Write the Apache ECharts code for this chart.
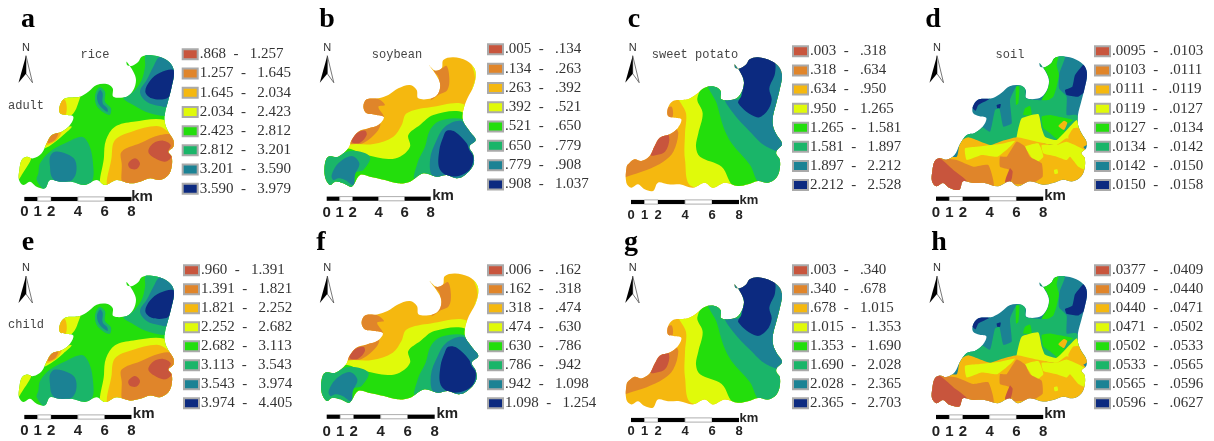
<!DOCTYPE html>
<html><head><meta charset="utf-8">
<style>html,body{margin:0;padding:0;background:#fff}#c{width:1214px;height:441px;filter:blur(0.45px)}</style>
<script src="https://cdn.jsdelivr.net/npm/echarts@6/dist/echarts.min.js"></script>
</head><body><div id="c"></div>
<script>
const COLORS = ['#C8553D','#E0852A','#F5B80F','#E0FA0A','#23DE0C','#1AB569','#1B8294','#0C2A80'];

const LABELS_A = ['.868 - 1.257','1.257 - 1.645','1.645 - 2.034','2.034 - 2.423','2.423 - 2.812','2.812 - 3.201','3.201 - 3.590','3.590 - 3.979'];
const LABELS_B = ['.005 - .134','.134 - .263','.263 - .392','.392 - .521','.521 - .650','.650 - .779','.779 - .908','.908 - 1.037'];
const LABELS_C = ['.003 - .318','.318 - .634','.634 - .950','.950 - 1.265','1.265 - 1.581','1.581 - 1.897','1.897 - 2.212','2.212 - 2.528'];
const LABELS_D = ['.0095 - .0103','.0103 - .0111','.0111 - .0119','.0119 - .0127','.0127 - .0134','.0134 - .0142','.0142 - .0150','.0150 - .0158'];
const LABELS_E = ['.960 - 1.391','1.391 - 1.821','1.821 - 2.252','2.252 - 2.682','2.682 - 3.113','3.113 - 3.543','3.543 - 3.974','3.974 - 4.405'];
const LABELS_F = ['.006 - .162','.162 - .318','.318 - .474','.474 - .630','.630 - .786','.786 - .942','.942 - 1.098','1.098 - 1.254'];
const LABELS_G = ['.003 - .340','.340 - .678','.678 - 1.015','1.015 - 1.353','1.353 - 1.690','1.690 - 2.028','2.028 - 2.365','2.365 - 2.703'];
const LABELS_H = ['.0377 - .0409','.0409 - .0440','.0440 - .0471','.0471 - .0502','.0502 - .0533','.0533 - .0565','.0565 - .0596','.0596 - .0627'];

const OUTLINE_RICE = [[380,185],[382,196],[397,197],[415,185],[425,170],[450,165],[490,175],[515,195],[522,220],[515,260],[505,300],[495,340],[495,370],[505,395],[520,420],[520,440],[505,455],[515,470],[515,500],[505,525],[480,540],[450,535],[420,545],[390,550],[350,540],[315,555],[290,540],[255,555],[215,545],[180,545],[150,540],[135,565],[110,560],[90,545],[70,555],[57,540],[58,510],[65,480],[80,470],[100,475],[125,460],[140,430],[155,405],[185,395],[210,375],[220,350],[200,345],[180,340],[180,315],[195,295],[225,292],[240,290],[265,275],[290,255],[320,252],[338,265],[340,290],[380,290],[400,270],[408,240],[400,215]];
const OUTLINE_SOY = [[357,195],[375,212],[395,205],[400,180],[430,172],[470,182],[493,205],[497,230],[488,265],[470,300],[458,340],[460,365],[480,395],[497,420],[478,440],[490,465],[490,495],[465,525],[440,535],[410,525],[380,530],[340,520],[300,545],[265,550],[225,540],[180,530],[150,525],[125,560],[100,550],[75,545],[60,555],[45,530],[45,490],[55,470],[85,470],[115,445],[125,420],[145,395],[175,385],[205,375],[222,352],[200,345],[170,340],[160,320],[170,298],[205,295],[235,285],[265,265],[300,255],[320,270],[325,295],[365,295],[385,280],[390,250],[375,220]];
const OUTLINE_POTATO = [[374,193],[376,204],[391,205],[409,193],[419,178],[444,172],[484,183],[509,203],[516,228],[509,268],[499,308],[489,348],[489,378],[499,403],[516,432],[500,452],[499,463],[509,478],[509,508],[499,533],[474,548],[444,543],[414,553],[384,558],[344,548],[309,563],[284,548],[249,563],[209,553],[174,553],[144,548],[129,573],[104,568],[84,553],[64,563],[49,548],[50,500],[59,488],[74,478],[94,483],[119,468],[134,438],[149,413],[179,403],[204,383],[214,358],[194,353],[174,348],[174,323],[189,303],[219,300],[234,298],[259,283],[284,263],[314,260],[332,273],[334,298],[374,298],[394,278],[402,248],[394,223]];
const OUTLINE_SOIL = [[389,189],[391,200],[406,201],[424,189],[434,174],[459,169],[499,179],[524,199],[531,224],[524,264],[514,304],[504,344],[504,374],[514,399],[529,424],[529,444],[514,459],[524,474],[524,504],[514,529],[489,544],[459,539],[429,549],[399,554],[359,544],[324,559],[299,544],[264,559],[224,549],[189,549],[159,544],[148,569],[119,564],[99,549],[79,559],[66,544],[67,514],[74,484],[89,474],[109,479],[134,464],[149,434],[170,405],[194,399],[219,379],[229,354],[209,349],[189,339],[189,319],[204,299],[234,296],[249,294],[274,279],[299,259],[329,256],[347,269],[349,294],[389,294],[409,274],[417,244],[409,219]];

const REGIONS_RICE = [
 [4,[[0,0],[930,0],[930,675],[0,675]]],
 [5,[[440,160],[435,200],[425,240],[400,275],[370,293],[400,315],[450,340],[510,345],[540,300],[540,160]]],
 [6,[[480,170],[460,200],[440,240],[420,275],[440,305],[480,318],[505,318],[540,250],[540,170]]],
 [7,[[522,210],[480,218],[450,242],[436,275],[455,295],[495,297],[512,285],[532,240]]],
 [5,[[298,262],[285,290],[293,322],[328,345],[333,325],[315,305],[315,275]]],
 [6,[[300,270],[291,290],[298,315],[322,336],[322,325],[308,310],[308,280]]],
 [3,[[170,280],[240,280],[238,300],[215,345],[170,350]]],
 [2,[[170,305],[195,300],[197,345],[170,350]]],
 [3,[[50,500],[70,470],[95,470],[65,525],[50,545]]],
 [3,[[130,440],[160,400],[190,385],[215,380],[190,405],[160,430],[135,445]]],
 [2,[[137,435],[150,410],[185,393],[170,420]]],
 [1,[[143,428],[155,405],[175,397],[165,420]]],
 [5,[[115,520],[120,490],[150,455],[195,430],[245,410],[265,430],[278,480],[275,545],[230,555],[175,550],[150,545],[135,570],[110,540]]],
 [6,[[150,470],[165,455],[200,462],[225,480],[228,520],[210,545],[175,548],[155,530],[150,500]]],
 [3,[[310,570],[312,470],[318,420],[345,380],[400,365],[495,360],[530,400],[540,570]]],
 [2,[[330,570],[335,470],[345,420],[395,395],[470,378],[505,395],[540,430],[540,570]]],
 [1,[[375,560],[365,490],[365,455],[420,430],[480,405],[525,410],[540,560]]],
 [0,[[445,455],[460,430],[490,422],[512,435],[505,455],[515,470],[495,485],[465,475]]],
 [0,[[385,490],[405,475],[420,490],[410,507],[390,505]]]
];
const REGIONS_SOY = [
 [2,[[0,0],[900,0],[900,675],[0,675]]],
 [3,[[470,172],[485,195],[495,235],[487,270],[510,260],[510,180]]],
 [1,[[372,212],[395,205],[410,198],[418,235],[412,270],[385,285],[362,300],[385,260],[385,230]]],
 [1,[[150,340],[165,298],[200,295],[225,315],[205,320],[222,350],[215,360],[190,350]]],
 [1,[[120,430],[135,400],[175,385],[210,370],[205,390],[175,420],[150,432]]],
 [0,[[125,425],[140,400],[165,392],[170,405],[150,428]]],
 [3,[[115,435],[190,432],[250,410],[275,375],[290,340],[360,322],[465,315],[480,400],[480,580],[20,580],[20,480]]],
 [4,[[105,445],[170,465],[235,477],[270,470],[300,440],[295,405],[330,375],[370,345],[460,338],[500,400],[500,580],[20,580],[20,470]]],
 [5,[[318,545],[322,490],[345,440],[360,390],[390,362],[460,358],[520,400],[520,560]]],
 [6,[[372,530],[360,480],[380,420],[405,380],[450,362],[480,385],[510,430],[510,540]]],
 [7,[[410,392],[435,395],[470,430],[478,450],[490,470],[482,505],[455,525],[415,528],[388,505],[388,450],[400,410]]],
 [5,[[30,560],[35,470],[80,465],[130,452],[180,470],[160,510],[135,520],[130,570],[60,570]]],
 [6,[[65,525],[85,490],[125,468],[148,490],[135,525],[130,555],[105,540],[85,535],[70,540]]]
];
const REGIONS_POTATO = [
 [2,[[0,0],[900,0],[900,675],[0,675]]],
 [1,[[30,540],[50,530],[110,510],[160,485],[190,455],[205,400],[195,385],[170,395],[130,440],[100,465],[30,460]]],
 [0,[[122,465],[140,420],[170,397],[178,420],[165,455],[140,465]]],
 [1,[[165,330],[185,320],[187,352],[165,352]]],
 [3,[[205,280],[228,340],[225,400],[225,480],[248,560],[600,600],[600,280]]],
 [4,[[295,250],[262,295],[278,340],[265,400],[258,440],[270,470],[335,500],[375,560],[600,600],[600,250]]],
 [5,[[298,250],[320,310],[340,380],[365,430],[420,495],[450,550],[600,600],[600,250]]],
 [6,[[345,295],[370,340],[420,395],[470,440],[530,450],[540,170],[360,170],[395,295]]],
 [7,[[388,205],[420,165],[490,180],[495,220],[478,265],[485,300],[470,335],[440,352],[385,310],[395,285],[400,240]]]
];
const REGIONS_SOIL = [
 [6,[[0,0],[912,0],[912,675],[0,675]]],
 [7,[[528,185],[495,225],[487,260],[465,270],[470,285],[505,290],[540,260],[540,185]]],
 [7,[[185,322],[195,300],[225,290],[237,298],[205,315],[197,332]]],
 [7,[[260,315],[272,312],[270,325],[262,325]]],
 [5,[[150,410],[172,402],[210,378],[240,395],[255,330],[268,325],[280,380],[305,370],[300,300],[320,258],[345,256],[348,295],[395,300],[415,270],[425,210],[430,170],[465,170],[448,220],[447,265],[470,290],[470,345],[500,345],[530,420],[150,470]]],
 [4,[[385,185],[400,205],[410,190],[425,172],[445,168],[440,195],[447,225],[440,260],[430,290],[415,300],[395,300],[412,270],[418,240],[408,215]]],
 [4,[[318,260],[328,260],[325,310],[318,315]]],
 [4,[[340,345],[345,325],[360,318],[365,345]]],
 [4,[[395,350],[420,345],[445,350],[490,360],[470,372],[455,385],[465,395],[445,420],[420,400],[400,385]]],
 [3,[[322,400],[335,355],[385,342],[395,385],[405,410],[440,420],[500,360],[510,390],[480,410],[470,440],[395,430],[320,425]]],
 [2,[[60,470],[140,470],[150,425],[175,412],[240,435],[270,425],[320,412],[380,425],[440,435],[470,415],[510,430],[540,470],[535,570],[50,590]]],
 [2,[[475,410],[490,385],[515,385],[535,430],[510,445],[480,430]]],
 [2,[[445,378],[462,362],[472,368],[462,390]]],
 [3,[[165,445],[200,440],[270,432],[315,422],[300,440],[262,470],[215,465],[170,480]]],
 [3,[[395,435],[440,435],[470,425],[530,455],[530,510],[505,500],[480,470],[470,480],[440,470],[400,460]]],
 [3,[[345,440],[385,430],[400,470],[375,490],[360,465]]],
 [3,[[432,510],[442,508],[444,520],[434,522]]],
 [1,[[270,470],[290,470],[320,425],[345,440],[360,470],[395,490],[398,530],[370,548],[310,552],[300,510],[270,500]]],
 [1,[[80,475],[100,475],[140,480],[190,500],[235,495],[250,560],[60,590],[60,490]]],
 [0,[[60,490],[85,472],[130,510],[172,545],[150,580],[120,565],[85,565],[50,565]]],
 [0,[[285,545],[300,505],[308,515],[300,560]]]
];

const KM_SEGMENTS = [[0,1],[1,2],[2,4],[4,6],[6,8]];
const KM_TICKS = [0,1,2,4,6,8];

/* per-panel placement on the page */
const PANELS = [
 {l:'a',labels:LABELS_A,regions:REGIONS_RICE,outline:OUTLINE_RICE,sm:.35,gap:2.5,grid:[0,0,310,225],ext:[930,675],lg:[181.7,46],bar:[24.3,13.4,199,211.7,142,196.7,15],nx:26,ny:47.7,lx:28,ly:34},
 {l:'b',labels:LABELS_B,regions:REGIONS_SOY,outline:OUTLINE_SOY,sm:.35,gap:2.6,grid:[310,0,300,225],ext:[900,675],lg:[487,41],bar:[326.7,13,198.7,213,443,195.7,15],nx:327.3,ny:47.7,lx:327,ly:34},
 {l:'c',labels:LABELS_C,regions:REGIONS_POTATO,outline:OUTLINE_POTATO,sm:.35,gap:2.4,grid:[610,0,300,225],ext:[900,675],lg:[792,43],bar:[631,13.5,202,215,749,200,13],nx:632.7,ny:47.7,lx:634,ly:34},
 {l:'d',labels:LABELS_D,regions:REGIONS_SOIL,outline:OUTLINE_SOIL,sm:.15,gap:2.4,grid:[910,0,304,225],ext:[912,675],lg:[1094,43],bar:[936,13.4,198.7,212.7,1055,195.7,15],nx:937,ny:47.7,lx:933,ly:34},
 {l:'e',labels:LABELS_E,regions:REGIONS_RICE,outline:OUTLINE_RICE,sm:.35,gap:2.3,grid:[0,222,310,222.75],ext:[930,675],lg:[183,262],bar:[24.3,13.4,417,431,143.7,414,15],nx:26,ny:268,lx:28,ly:257},
 {l:'f',labels:LABELS_F,regions:REGIONS_SOY,outline:OUTLINE_SOY,sm:.35,gap:2.3,grid:[306.1,216.2,311.8,230.9],ext:[900,675],lg:[487,262],bar:[326.7,13.5,416.7,431.7,447.3,414,15],nx:327.3,ny:268,lx:321,ly:257},
 {l:'g',labels:LABELS_G,regions:REGIONS_POTATO,outline:OUTLINE_POTATO,sm:.35,gap:2.3,grid:[610,221.4,300,219.4],ext:[900,675],lg:[792,262],bar:[631,13.5,420,431.7,749,418,13],nx:632.7,ny:268,lx:631,ly:257},
 {l:'h',labels:LABELS_H,regions:REGIONS_SOIL,outline:OUTLINE_SOIL,sm:.15,gap:2.3,grid:[910,220.9,304,222.75],ext:[912,675],lg:[1094,262],bar:[936,13.4,417,431.7,1055,414,15],nx:937,ny:268,lx:939,ly:257}
];
const CAPTIONS = [['rice',95,55],['soybean',397,55],['sweet potato',695,55],['soil',1010,55],['adult',26,106],['child',26,325]];

const PAGE = PANELS.length;
const grids = PANELS.map(p=>({left:p.grid[0],top:p.grid[1],width:p.grid[2],height:p.grid[3]}));
grids.push({left:0,top:0,width:1214,height:441});
const hidden = (max,inv)=>({type:'value',min:0,max:max,show:false,inverse:!!inv});
const xAxes = PANELS.map((p,i)=>Object.assign(hidden(p.ext[0]),{gridIndex:i}));
xAxes.push(Object.assign(hidden(1214),{gridIndex:PAGE}));
const yAxes = PANELS.map((p,i)=>Object.assign(hidden(p.ext[1],true),{gridIndex:i}));
yAxes.push(Object.assign(hidden(441,true),{gridIndex:PAGE}));

const series = [];
const legends = [];
PANELS.forEach((p,pi)=>{
  p.labels.forEach((name,ci)=>{
    const items = [];
    p.regions.forEach((r,ri)=>{ if(r[0]===ci) items.push([ri,ci]); });
    series.push({
      type:'custom',name:name,xAxisIndex:pi,yAxisIndex:pi,clip:false,silent:true,
      itemStyle:{color:COLORS[ci],borderColor:'#aaa',borderWidth:0.6},
      data:items,animation:false,
      renderItem:(params,api)=>{
        const reg = p.regions[api.value(0)];
        return {
          type:'polygon',z2:api.value(0)+1,
          shape:{points:reg[1].map(q=>api.coord(q)),smooth:p.sm},
          style:{fill:COLORS[ci]},
          clipPath:{type:'polygon',shape:{points:p.outline.map(q=>api.coord(q)),smooth:.35}}
        };
      }
    });
  });
  legends.push({
    left:p.lg[0],top:p.lg[1],orient:'vertical',padding:0,itemWidth:15,itemHeight:10,itemGap:p.gap,
    selectedMode:false,icon:'rect',data:p.labels,
    formatter:n=>n.replace(' - ','  -   '),
    textStyle:{fontFamily:'"Liberation Serif"',fontSize:15,color:'#333',padding:[0,0,0,-3],lineHeight:16.7}
  });
});

// decorations on the page grid
const onPage = {type:'custom',xAxisIndex:PAGE,yAxisIndex:PAGE,clip:false,silent:true,animation:false};
const txt = (api,s,x,y,font,fill,align)=>{
  const c = api.coord([x,y]);
  return {type:'text',z2:200,style:{text:s,x:c[0],y:c[1],font:font,fill:fill,align:align||'center',verticalAlign:'middle'}};
};
series.push(Object.assign({},onPage,{name:'panel letters',data:PANELS.map((p,i)=>[i,0]),renderItem:(par,api)=>{
  const p = PANELS[api.value(0)], c = api.coord([p.lx,p.ly]);
  return {type:'text',z2:200,style:{text:p.l,x:c[0],y:c[1],font:'bold 28px "Liberation Serif"',fill:'#000',align:'center',verticalAlign:'bottom'}};
}}));
series.push(Object.assign({},onPage,{name:'captions',data:CAPTIONS.map((c,i)=>[i,0]),renderItem:(par,api)=>{
  const c = CAPTIONS[api.value(0)];
  return txt(api,c[0],c[1],c[2],'12px "Liberation Mono"','#444');
}}));
series.push(Object.assign({},onPage,{name:'north',data:PANELS.map((p,i)=>[i,0]),renderItem:(par,api)=>{
  const p = PANELS[api.value(0)], x=p.nx, y=p.ny;
  const pt = (a)=>a.map(q=>api.coord([x+q[0],y+q[1]]));
  return {type:'group',children:[
    txt(api,'N',x,y,'11px "Liberation Sans"','#333'),
    {type:'polygon',z2:200,shape:{points:pt([[0,8],[6.5,35],[0,26]])},style:{fill:'#fff',stroke:'#555',lineWidth:0.8}},
    {type:'polygon',z2:200,shape:{points:pt([[0,8],[-7.5,35],[0,26]])},style:{fill:'#000'}}
  ]};
}}));
series.push(Object.assign({},onPage,{name:'scale bar',data:PANELS.flatMap((p,i)=>KM_SEGMENTS.map((s,j)=>[i,j])),renderItem:(par,api)=>{
  const b = PANELS[api.value(0)].bar, j = api.value(1), s = KM_SEGMENTS[j];
  const a = api.coord([b[0]+s[0]*b[1],b[2]-2.1]), e = api.coord([b[0]+s[1]*b[1],b[2]+2.1]);
  return {type:'rect',z2:200,shape:{x:a[0],y:a[1],width:e[0]-a[0],height:e[1]-a[1]},
    style:j%2?{fill:'#fff',stroke:'#999',lineWidth:0.8}:{fill:'#000'}};
}}));
series.push(Object.assign({},onPage,{name:'scale labels',data:PANELS.flatMap((p,i)=>KM_TICKS.map((k,j)=>[i,j])),renderItem:(par,api)=>{
  const b = PANELS[api.value(0)].bar, k = KM_TICKS[api.value(1)];
  return txt(api,String(k),b[0]+k*b[1],b[3],'bold '+b[6]+'px "Liberation Sans Narrow","Liberation Sans"','#222');
}}));
series.push(Object.assign({},onPage,{name:'km',data:PANELS.map((p,i)=>[i,0]),renderItem:(par,api)=>{
  const b = PANELS[api.value(0)].bar;
  return txt(api,'km',b[4],b[5],'bold '+b[6]+'px "Liberation Sans Narrow","Liberation Sans"','#222');
}}));

const chart = echarts.init(document.getElementById('c'),null,{renderer:'canvas'});
chart.setOption({animation:false,backgroundColor:'#fff',grid:grids,xAxis:xAxes,yAxis:yAxes,legend:legends,tooltip:{show:false},series:series});
</script></body></html>
